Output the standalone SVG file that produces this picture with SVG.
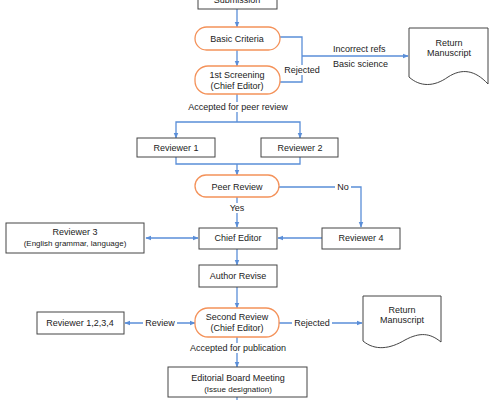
<svg xmlns="http://www.w3.org/2000/svg" width="495" height="400" viewBox="0 0 495 400">
<defs>
<marker id="ah" viewBox="0 0 10 10" refX="9" refY="5" markerWidth="6" markerHeight="6" orient="auto-start-reverse" markerUnits="userSpaceOnUse">
<path d="M0,1 L10,5 L0,9 z" fill="#5a8ed8"/>
</marker>
<style>
.box{fill:#fff;stroke:#444;stroke-width:1}
.pill{fill:#fff;stroke:#f4925a;stroke-width:1.3}
.doc{fill:#fff;stroke:#444;stroke-width:1}
.ln{fill:none;stroke:#5a8ed8;stroke-width:1.3}
.arr{fill:none;stroke:#5a8ed8;stroke-width:1.3;marker-end:url(#ah)}
.dbl{fill:none;stroke:#5a8ed8;stroke-width:1.3;marker-end:url(#ah);marker-start:url(#ah)}
text{font-family:"Liberation Sans",Arial,sans-serif;font-size:9px;fill:#222;text-anchor:middle}
.sm{font-size:8px}
.lb{fill:#fff;stroke:none}
</style>
</defs>
<rect width="495" height="400" fill="#fff"/>
<g id="connectors">
<path class="arr" d="M237,9 V27"/>
<path class="arr" d="M237,50 V66"/>
<path class="ln" d="M280,37 H302 V82 H280"/>
<path class="arr" d="M302,56 H408"/>
<path class="ln" d="M237,94 V122"/>
<path class="arr" d="M237,122 H176 V138"/>
<path class="arr" d="M237,122 H300 V138"/>
<path class="ln" d="M176,157 V164 H300 V157"/>
<path class="arr" d="M237,164 V175"/>
<path class="arr" d="M279,187 H361 V227"/>
<path class="arr" d="M237,197 V227"/>
<path class="dbl" d="M146,238 H198"/>
<path class="arr" d="M322,238 H278"/>
<path class="arr" d="M237,249 V265"/>
<path class="arr" d="M237,287 V308"/>
<path class="dbl" d="M125,323 H195"/>
<path class="arr" d="M279,323 H362"/>
<path class="arr" d="M237,337 V367"/>
<path class="ln" d="M237,397 V400"/>
<rect class="lb" x="283" y="65" width="38" height="10"/>
<text x="302" y="73">Rejected</text>
<text x="333" y="52" style="text-anchor:start">Incorrect refs</text>
<text x="333" y="67" style="text-anchor:start">Basic science</text>
<rect class="lb" x="186" y="102" width="104" height="10"/>
<text x="238" y="110">Accepted for peer review</text>
<rect class="lb" x="335" y="182" width="16" height="10"/>
<text x="343" y="190">No</text>
<rect class="lb" x="228" y="203" width="18" height="10"/>
<text x="237" y="211">Yes</text>
<rect class="lb" x="143" y="318" width="34" height="10"/>
<text x="160" y="326">Review</text>
<rect class="lb" x="292" y="318" width="40" height="10"/>
<text x="312" y="326">Rejected</text>
<rect class="lb" x="187" y="343" width="103" height="10"/>
<text x="238" y="351">Accepted for publication</text>
</g>
<g id="submission"><rect class="box" x="198" y="-12" width="79" height="21"/><text x="237" y="3">Submission</text></g>
<g id="basic-criteria"><rect class="pill" x="195" y="27" width="85" height="23" rx="11.5"/><text x="237" y="42">Basic Criteria</text></g>
<g id="first-screening"><rect class="pill" x="195" y="66" width="85" height="28" rx="13"/><text x="237" y="78">1st Screening</text><text x="237" y="89">(Chief Editor)</text></g>
<g id="return-1"><path class="doc" d="M409,28 H488 V84 C475,70 462,68 448,77 C434,87 420,87 409,77 Z"/><text x="449" y="46">Return</text><text x="449" y="56">Manuscript</text></g>
<g id="reviewer-1"><rect class="box" x="137" y="138" width="78" height="19"/><text x="176" y="151">Reviewer 1</text></g>
<g id="reviewer-2"><rect class="box" x="261" y="138" width="77" height="19"/><text x="300" y="151">Reviewer 2</text></g>
<g id="peer-review"><rect class="pill" x="195" y="175" width="84" height="22" rx="11"/><text x="237" y="190">Peer Review</text></g>
<g id="reviewer-3"><rect class="box" x="6" y="223" width="138" height="30"/><text x="75" y="235">Reviewer 3</text><text class="sm" x="75" y="246">(English grammar, language)</text></g>
<g id="chief-editor"><rect class="box" x="199" y="228" width="78" height="21"/><text x="238" y="241">Chief Editor</text></g>
<g id="reviewer-4"><rect class="box" x="322" y="228" width="78" height="21"/><text x="361" y="241">Reviewer 4</text></g>
<g id="author-revise"><rect class="box" x="199" y="265" width="78" height="22"/><text x="238" y="279">Author Revise</text></g>
<g id="second-review"><rect class="pill" x="195" y="308" width="84" height="29" rx="13"/><text x="237" y="320">Second Review</text><text x="237" y="331">(Chief Editor)</text></g>
<g id="reviewers-all"><rect class="box" x="37" y="312" width="87" height="22"/><text x="80" y="326">Reviewer 1,2,3,4</text></g>
<g id="return-2"><path class="doc" d="M363,296 H441 V342 C430,333 420,332 405,340 C390,349 375,351 363,341 Z"/><text x="402" y="313">Return</text><text x="402" y="323">Manuscript</text></g>
<g id="editorial-board"><rect class="box" x="168" y="367" width="139" height="30"/><text x="238" y="381">Editorial Board Meeting</text><text class="sm" x="238" y="392">(Issue designation)</text></g>
</svg>
